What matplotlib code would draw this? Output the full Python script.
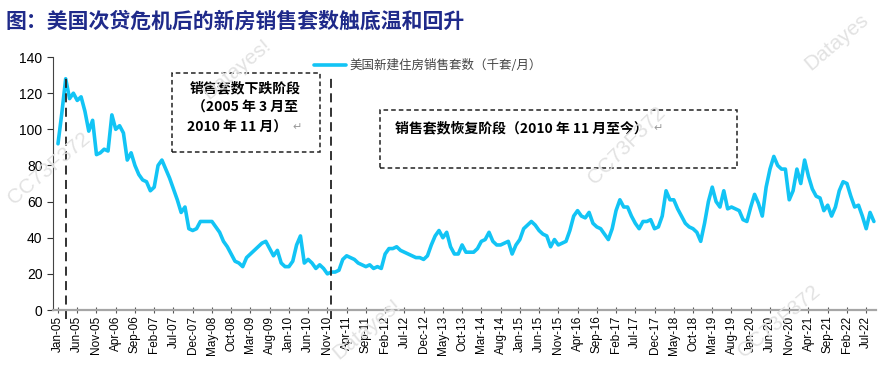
import numpy as np
import pandas as pd
import matplotlib
matplotlib.use('Agg')
import matplotlib.pyplot as plt
from matplotlib.patches import Rectangle

plt.rcParams['font.family'] = ['Liberation Sans', 'Noto Sans CJK SC', 'DejaVu Sans']

# =====================================
# 1. Data (US new home sales, thousand units / month)
# =====================================
months = pd.date_range('2005-01-01', '2022-09-01', freq='MS')
month_labels = [d.strftime('%b-%y') for d in months]

sales = [
    92, 109, 128, 117, 120, 116, 118, 110, 99, 105, 86, 87,     # 2005
    89, 88, 108, 100, 102, 98, 83, 87, 80, 75, 72, 71,          # 2006
    66, 68, 80, 83, 78, 73, 67, 61, 54, 57, 45, 44,             # 2007
    45, 49, 49, 49, 49, 46, 43, 38, 35, 31, 27, 26,             # 2008
    24, 29, 31, 33, 35, 37, 38, 34, 30, 33, 26, 24,             # 2009
    24, 27, 36, 41, 26, 28, 26, 23, 25, 23, 20, 21,             # 2010
    21, 22, 28, 30, 29, 28, 26, 25, 24, 25, 23, 24,             # 2011
    23, 31, 34, 34, 35, 33, 32, 31, 30, 29, 29, 28,             # 2012
    30, 36, 41, 44, 40, 43, 35, 31, 31, 36, 32, 32,             # 2013
    32, 34, 38, 39, 43, 38, 36, 36, 37, 38, 31, 36,             # 2014
    39, 45, 47, 49, 47, 44, 42, 41, 35, 39, 36, 37,             # 2015
    38, 44, 52, 55, 52, 51, 54, 48, 46, 45, 42, 39,             # 2016
    45, 55, 61, 57, 57, 52, 48, 45, 49, 49, 50, 45,             # 2017
    46, 52, 66, 61, 61, 56, 52, 48, 46, 45, 43, 38,             # 2018
    48, 60, 68, 60, 57, 66, 56, 57, 56, 55, 50, 49,             # 2019
    57, 64, 59, 52, 68, 78, 85, 80, 78, 78, 61, 66,             # 2020
    78, 70, 83, 74, 67, 63, 62, 55, 58, 52, 57, 66,             # 2021
    71, 70, 63, 57, 58, 52, 45, 54, 49,                         # 2022
]

series_name = '美国新建住房销售套数（千套/月）'
title = '图：美国次贷危机后的新房销售套数触底温和回升'
fall_lines = ['销售套数下跌阶段', '（2005 年 3 月至', '2010 年 11 月）']
rise_text = '销售套数恢复阶段（2010 年 11 月至今）'
fall_start = '2005-03'
fall_end = '2010-12'

# =====================================
# 2. Plot
# =====================================
x = np.arange(len(sales))
fig = plt.figure(figsize=(8.95, 3.83), dpi=100)
ax = fig.add_axes([0.0592, 0.1906, 0.9198, 0.6604])

line_color = '#12c4f5'
ax.plot(x, sales, color=line_color, lw=2.6, solid_joinstyle='round',
        solid_capstyle='round', label=series_name)

ax.set_xlim(-1.3, 212.6)
ax.set_ylim(0, 140)
ax.set_yticks(range(0, 141, 20))
ax.tick_params(axis='y', labelsize=10, length=4, direction='out', color='#333333')
ax.set_xticks(x[::5])
ax.set_xticklabels(month_labels[::5], rotation=90, fontsize=8.5)
ax.tick_params(axis='x', length=4, direction='inout', color='#555555', pad=2)

for s in ['top', 'right']:
    ax.spines[s].set_visible(False)
ax.spines['left'].set_color('#444444')
ax.spines['bottom'].set_color('#a6a6a6')
ax.spines['bottom'].set_linewidth(1.6)

# stage boundaries
month_keys = list(months.strftime('%Y-%m'))
for d in [fall_start, fall_end]:
    xi = month_keys.index(d)
    ax.plot([xi, xi], [-5, 129], color='#222222', lw=1.3, ls=(0, (5, 3)),
            clip_on=False)

# stage boxes
ax.add_patch(Rectangle((29.6, 87.4), 38.6, 43.6, fill=False, ls=(0, (3, 2)),
                       lw=1.1, ec='#222222', clip_on=False))
ax.add_patch(Rectangle((83.6, 78.6), 92.8, 32.1, fill=False, ls=(0, (3, 2)),
                       lw=1.1, ec='#222222', clip_on=False))

cjk = ['Noto Sans CJK SC', 'DejaVu Sans']
box_kw = dict(va='center', fontsize=10, fontweight='bold', family=cjk)
ax.text(48.6, 122.5, fall_lines[0], ha='center', **box_kw)
ax.text(48.6, 112.0, fall_lines[1], ha='center', **box_kw)
last = ax.text(33.5, 101.0, fall_lines[2], ha='left', **box_kw)
rise = ax.text(87.5, 100.5, rise_text, ha='left', **box_kw)

for t in [last, rise]:
    ax.annotate('↵', xy=(1, 0.5), xycoords=t, xytext=(4, 0),
                textcoords='offset points', ha='left', va='center',
                fontsize=8, color='#999999', family=['DejaVu Sans'])

leg = ax.legend(loc='center left', bbox_to_anchor=(0.31, 0.965), frameon=False,
                handlelength=2.5, handletextpad=0.3, borderpad=0,
                prop={'family': cjk, 'size': 9})
for t in leg.get_texts():
    t.set_color('#444444')

fig.text(0.006, 0.945, title, fontsize=15, fontweight='bold', color='#1f2a8a',
         ha='left', va='center', family=cjk)

# watermarks
wm = dict(color='#e2e2e2', fontsize=15, ha='center', va='center', zorder=0)
fig.text(0.265, 0.82, 'Datayes!', rotation=40, **wm)
fig.text(0.055, 0.56, 'CC73F372', rotation=40, **wm)
fig.text(0.70, 0.62, 'CC73F372', rotation=45, **wm)
fig.text(0.41, 0.14, 'Datayes!', rotation=40, **wm)
fig.text(0.935, 0.89, 'Datayes', rotation=40, **wm)
fig.text(0.87, 0.16, 'CC73F372', rotation=40, **wm)

fig.savefig('out.png', dpi=100)
